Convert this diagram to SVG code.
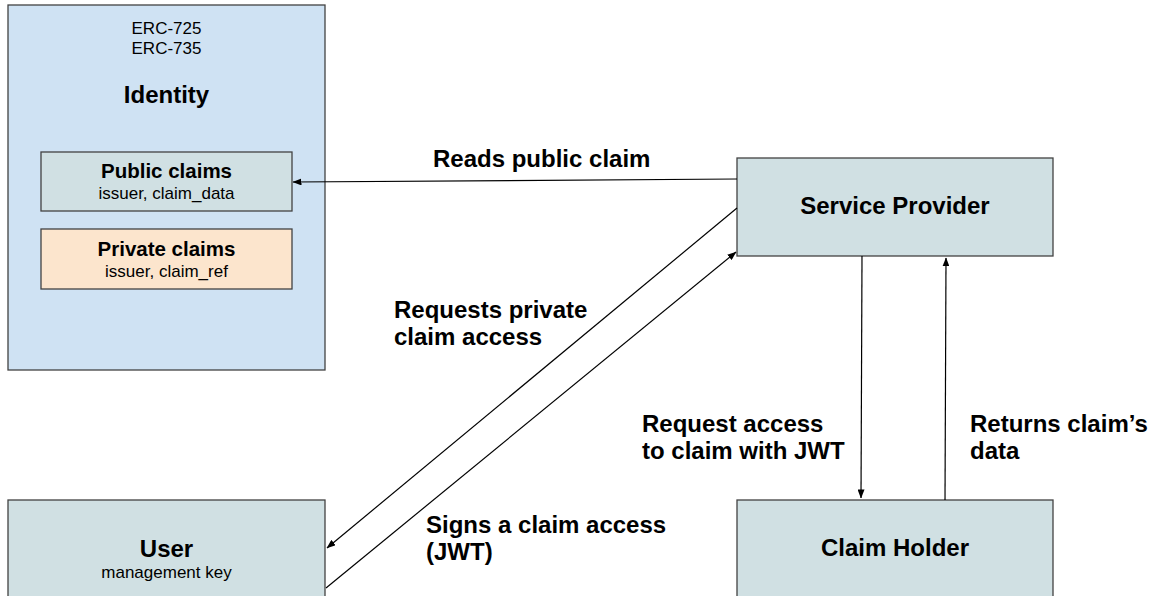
<svg xmlns="http://www.w3.org/2000/svg" width="1160" height="596" viewBox="0 0 1160 596">
  <style>
    .box { stroke: #434343; stroke-width: 1.3; }
    .blue { fill: #cfe2f3; }
    .cyan { fill: #d0e0e3; }
    .orange { fill: #fce5cd; }
    text { font-family: "Liberation Sans", Arial, sans-serif; fill: #000; }
    .title { font-size: 24px; font-weight: bold; text-anchor: middle; }
    .sub { font-size: 17px; text-anchor: middle; }
    .inner { font-size: 20.5px; font-weight: bold; text-anchor: middle; }
    .label { font-size: 24px; font-weight: bold; }
    .conn { stroke: #000; stroke-width: 1.2; fill: none; marker-end: url(#arrow); }
  </style>
  <defs>
    <marker id="arrow" markerWidth="9" markerHeight="7" refX="8.5" refY="3.5" orient="auto" markerUnits="userSpaceOnUse">
      <path d="M0,0 L9,3.5 L0,7 Z" fill="#000"/>
    </marker>
  </defs>

  <!-- Identity contract with its claim lists -->
  <g id="identity">
    <rect class="box blue" x="8" y="5" width="317" height="365"/>
    <text class="sub" x="166.5" y="34">ERC-725</text>
    <text class="sub" x="166.5" y="54">ERC-735</text>
    <text class="title" x="166.5" y="103">Identity</text>
  </g>
  <g id="public-claims">
    <rect class="box cyan" x="41" y="152" width="251" height="59"/>
    <text class="inner" x="166.5" y="178">Public claims</text>
    <text class="sub" x="166.5" y="199">issuer, claim_data</text>
  </g>
  <g id="private-claims">
    <rect class="box orange" x="41" y="229" width="251" height="60"/>
    <text class="inner" x="166.5" y="256">Private claims</text>
    <text class="sub" x="166.5" y="277">issuer, claim_ref</text>
  </g>

  <g id="service-provider">
    <rect class="box cyan" x="737" y="158" width="316" height="98"/>
    <text class="title" x="895" y="214">Service Provider</text>
  </g>

  <g id="user">
    <rect class="box cyan" x="8" y="500" width="317" height="110"/>
    <text class="title" x="166.5" y="557">User</text>
    <text class="sub" x="166.5" y="578">management key</text>
  </g>

  <g id="claim-holder">
    <rect class="box cyan" x="737" y="500" width="316" height="110"/>
    <text class="title" x="895" y="556">Claim Holder</text>
  </g>

  <!-- Message flow between the parties -->
  <g id="connectors">
    <line class="conn" x1="737" y1="179" x2="293" y2="182"/>
    <line class="conn" x1="737" y1="208" x2="327" y2="548"/>
    <line class="conn" x1="326" y1="588" x2="736" y2="252"/>
    <line class="conn" x1="862" y1="256" x2="861" y2="498"/>
    <line class="conn" x1="945" y1="500" x2="946" y2="258"/>
  </g>

  <g id="connector-labels">
    <text class="label" x="433" y="167">Reads public claim</text>
    <text class="label" x="394" y="318">Requests private</text>
    <text class="label" x="394" y="345">claim access</text>
    <text class="label" x="642" y="432">Request access</text>
    <text class="label" x="642" y="459">to claim with JWT</text>
    <text class="label" x="970" y="432">Returns claim’s</text>
    <text class="label" x="970" y="459">data</text>
    <text class="label" x="426" y="533">Signs a claim access</text>
    <text class="label" x="426" y="560">(JWT)</text>
  </g>
</svg>
